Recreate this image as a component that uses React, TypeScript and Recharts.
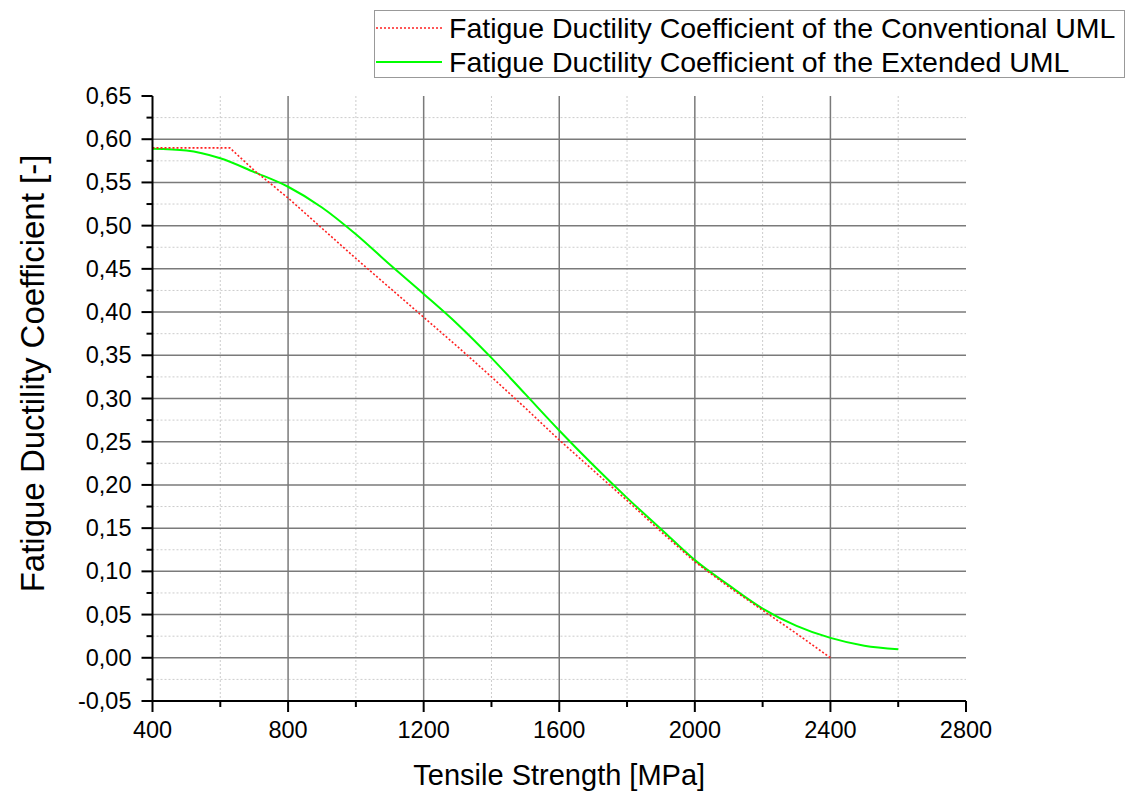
import { LineChart, Line, XAxis, YAxis, CartesianGrid, Legend, Label } from "recharts";

// Conventional UML (red dotted)
const STRENGTH_CONV = [400, 628, 700, 800, 900, 1000, 1100, 1200, 1300, 1400, 1500, 1600, 1700, 1800, 1900, 2000, 2100, 2200, 2300, 2400];
const FDC_CONV = [0.59, 0.59, 0.564, 0.532, 0.497, 0.462, 0.428, 0.394, 0.36, 0.325, 0.289, 0.252, 0.217, 0.182, 0.146, 0.111, 0.082, 0.055, 0.028, 0.0];

// Extended UML (green)
const STRENGTH_EXT = [400, 500, 600, 700, 800, 900, 1000, 1100, 1200, 1300, 1400, 1500, 1600, 1700, 1800, 1900, 2000, 2100, 2200, 2300, 2400, 2500, 2600];
const FDC_EXT = [0.589, 0.587, 0.578, 0.562, 0.545, 0.521, 0.49, 0.455, 0.421, 0.386, 0.347, 0.305, 0.263, 0.223, 0.185, 0.149, 0.113, 0.084, 0.057, 0.037, 0.023, 0.014, 0.01];

const X_MAJOR = [400, 800, 1200, 1600, 2000, 2400, 2800];
const X_MINOR = [600, 1000, 1400, 1800, 2200, 2600];
const Y_MAJOR = [-0.05, 0, 0.05, 0.1, 0.15, 0.2, 0.25, 0.3, 0.35, 0.4, 0.45, 0.5, 0.55, 0.6, 0.65];
const Y_MINOR = [-0.025, 0.025, 0.075, 0.125, 0.175, 0.225, 0.275, 0.325, 0.375, 0.425, 0.475, 0.525, 0.575, 0.625];

const X_TICKS = [...X_MAJOR, ...X_MINOR].sort((a, b) => a - b);
const Y_TICKS = [...Y_MAJOR, ...Y_MINOR].sort((a, b) => a - b);

const SERIES = [
  { name: "Fatigue Ductility Coefficient of the Conventional UML", color: "#ff2020", dash: "2 2" },
  { name: "Fatigue Ductility Coefficient of the Extended UML", color: "#00ff00", dash: undefined },
];

const convData = STRENGTH_CONV.map((x, i) => ({ x, y: FDC_CONV[i] }));
const extData = STRENGTH_EXT.map((x, i) => ({ x, y: FDC_EXT[i] }));

const FONT = "'Liberation Sans', Arial, sans-serif";

function XTick(props: any) {
  const { x, y, payload } = props;
  const major = X_MAJOR.includes(payload.value);
  const len = major ? 11 : 6;
  return (
    <g>
      <line x1={x} x2={x} y1={y} y2={y + len} stroke="#000" strokeWidth={2} />
      {major && (
        <text x={x} y={y + 37} textAnchor="middle" fontSize={23.5} fontFamily={FONT} fill="#000">
          {payload.value}
        </text>
      )}
    </g>
  );
}

function YTick(props: any) {
  const { x, y, payload } = props;
  const major = Y_MAJOR.includes(payload.value);
  const len = major ? 11 : 6;
  return (
    <g>
      <line x1={x - len} x2={x} y1={y} y2={y} stroke="#000" strokeWidth={2} />
      {major && (
        <text x={x - 21} y={y + 8} textAnchor="end" fontSize={23.5} fontFamily={FONT} fill="#000">
          {payload.value.toFixed(2).replace(".", ",")}
        </text>
      )}
    </g>
  );
}

function LegendBox() {
  return (
    <div
      style={{
        width: 749,
        height: 66,
        border: "1px solid #999",
        background: "#fff",
        fontFamily: FONT,
        fontSize: 28.5,
        color: "#000",
      }}
    >
      {SERIES.map((s) => (
        <div key={s.name} style={{ display: "flex", alignItems: "center", height: 34, whiteSpace: "nowrap" }}>
          <svg width={73} height={10} style={{ marginLeft: 1 }}>
            <line x1={0} x2={66} y1={5} y2={5} stroke={s.color} strokeWidth={s.dash ? 1.5 : 2} strokeDasharray={s.dash} />
          </svg>
          <span>{s.name}</span>
        </div>
      ))}
    </div>
  );
}

export default function App() {
  return (
    <div style={{ position: "absolute", top: 0, left: 0, width: 1127, height: 795, background: "#fff" }}>
      <LineChart width={1127} height={795} margin={{ top: 96, right: 161, bottom: 34, left: 0 }}>
        {/* minor grid */}
        <CartesianGrid
          horizontalValues={Y_MINOR}
          verticalValues={X_MINOR}
          stroke="#cccccc"
          strokeWidth={1}
          strokeDasharray="2 2"
        />
        {/* major grid */}
        <CartesianGrid
          horizontalValues={Y_MAJOR.slice(1, -1)}
          verticalValues={X_MAJOR.slice(1, -1)}
          stroke="#7a7a7a"
          strokeWidth={1.5}
        />
        <XAxis
          type="number"
          dataKey="x"
          domain={[400, 2800]}
          ticks={X_TICKS}
          interval={0}
          tickSize={0}
          tickMargin={0}
          tickLine={false}
          tick={<XTick />}
          height={60}
          axisLine={{ stroke: "#000", strokeWidth: 2 }}
        >
          <Label
            content={({ viewBox }: any) => (
              <text
                x={viewBox.x + viewBox.width / 2}
                y={viewBox.y + 84}
                textAnchor="middle"
                fontSize={29}
                fontFamily={FONT}
                fill="#000"
              >
                Tensile Strength [MPa]
              </text>
            )}
          />
        </XAxis>
        <YAxis
          type="number"
          domain={[-0.05, 0.65]}
          ticks={Y_TICKS}
          interval={0}
          tickSize={0}
          tickMargin={0}
          tickLine={false}
          tick={<YTick />}
          width={152.5}
          axisLine={{ stroke: "#000", strokeWidth: 2 }}
        >
          <Label
            content={({ viewBox }: any) => {
              const cx = 32;
              const cy = viewBox.y + viewBox.height / 2 - 25;
              return (
                <text
                  x={cx}
                  y={cy}
                  transform={`rotate(-90 ${cx} ${cy})`}
                  textAnchor="middle"
                  dominantBaseline="central"
                  fontSize={33}
                  fontFamily={FONT}
                  fill="#000"
                >
                  Fatigue Ductility Coefficient [-]
                </text>
              );
            }}
          />
        </YAxis>
        <Legend
          layout="vertical"
          align="center"
          verticalAlign="middle"
          content={() => <LegendBox />}
          wrapperStyle={{ top: 10, left: 374, width: 751 }}
        />
        <Line
          data={extData}
          dataKey="y"
          name={SERIES[1].name}
          stroke={SERIES[1].color}
          strokeWidth={2}
          dot={false}
          type="monotone"
          isAnimationActive={false}
        />
        <Line
          data={convData}
          dataKey="y"
          name={SERIES[0].name}
          stroke={SERIES[0].color}
          strokeWidth={1.6}
          strokeDasharray={SERIES[0].dash}
          dot={false}
          type="linear"
          isAnimationActive={false}
        />
      </LineChart>
    </div>
  );
}
